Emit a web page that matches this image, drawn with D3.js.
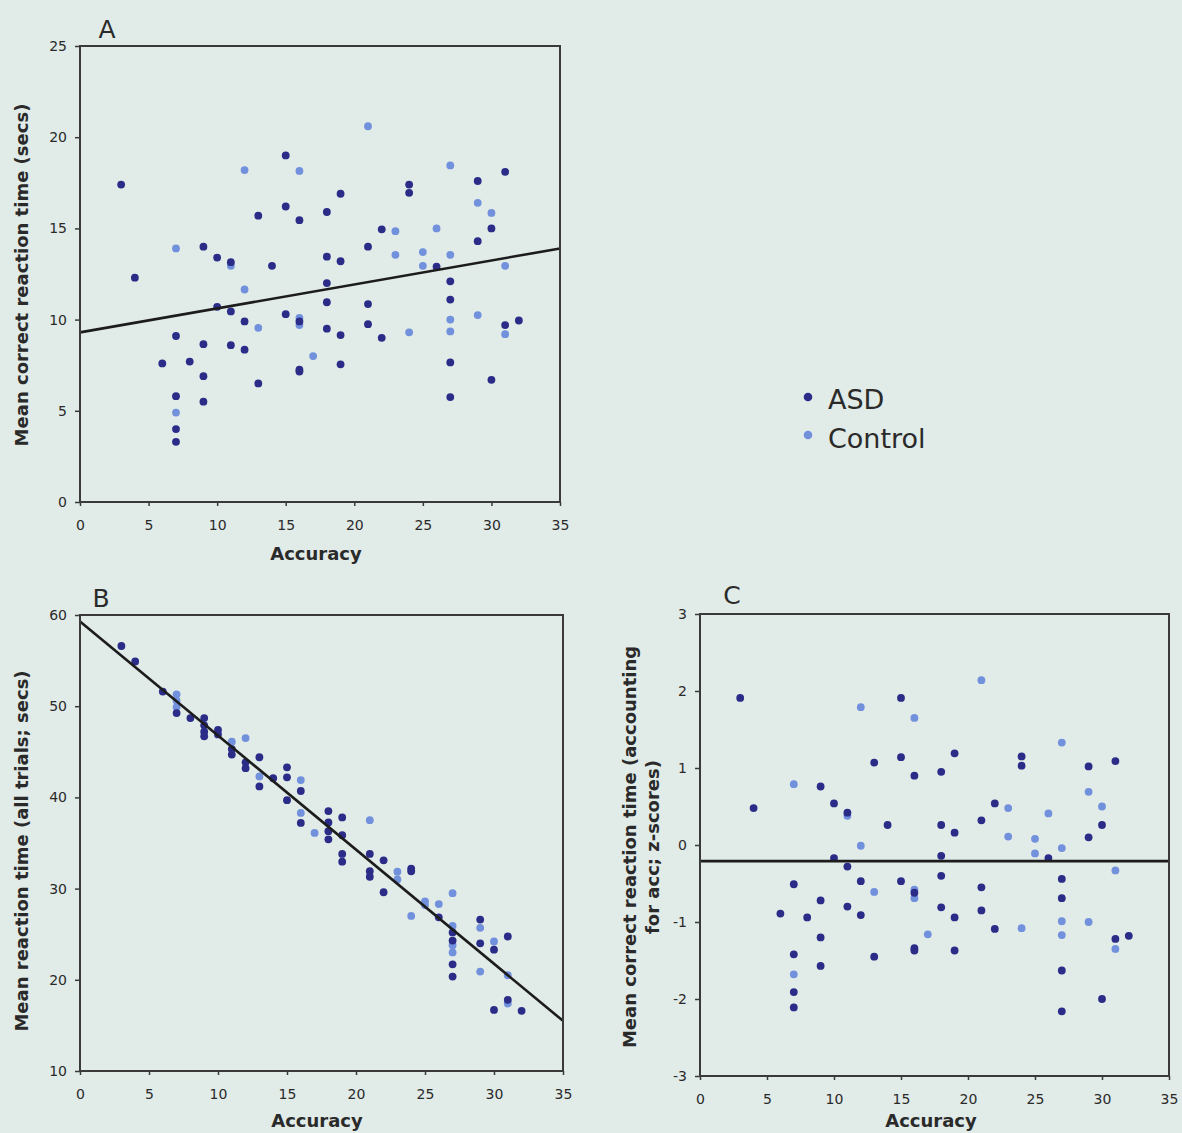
<!DOCTYPE html>
<html><head><meta charset="utf-8">
<script src="https://cdn.jsdelivr.net/npm/d3@7"></script>
<style>
html,body{margin:0;padding:0;background:#e1ebe8;}
svg{display:block;}
text{font-family:"DejaVu Sans",Verdana,sans-serif;fill:#2a2a2a;}
</style></head>
<body>
<script>
// ---------- DATA ----------
const xTicks = [0,5,10,15,20,25,30,35];
const yTicksA = [0,5,10,15,20,25];
const yTicksB = [10,20,30,40,50,60];
const yTicksC = [-3,-2,-1,0,1,2,3];
const seriesNames = ["ASD","Control"];

const panelA_ASD = [[3,17.4],[4,12.3],[6,7.6],[7,9.1],[7,5.8],[7,4.0],[7,3.3],[8,7.7],[9,14.0],[9,8.65],[9,6.9],[9,5.5],[10,13.4],[10,10.7],[11,13.15],[11,10.45],[11,8.6],[12,9.9],[12,8.35],[13,15.7],[13,6.5],[14,12.95],[15,19.0],[15,16.2],[15,10.3],[16,15.45],[16,9.9],[16,7.25],[16,7.15],[18,15.9],[18,13.45],[18,12.0],[18,10.95],[18,9.5],[19,16.9],[19,13.2],[19,9.15],[19,7.55],[21,14.0],[21,10.85],[21,9.75],[22,14.95],[22,9.0],[24,17.4],[24,16.95],[26,12.9],[27,12.1],[27,11.1],[27,7.65],[27,5.75],[29,17.6],[29,14.3],[30,15.0],[30,6.7],[31,18.1],[31,9.7],[32,9.95]];
const panelA_Control = [[7,13.9],[7,4.9],[11,12.95],[12,18.2],[12,11.65],[13,9.55],[16,18.15],[16,10.1],[16,9.7],[17,8.0],[21,20.6],[23,14.85],[23,13.55],[24,9.3],[25,13.7],[25,12.95],[26,15.0],[27,18.45],[27,13.55],[27,10.0],[27,9.35],[29,16.4],[29,10.25],[30,15.85],[31,12.95],[31,9.2]];
const panelA_fit = [[0,9.3],[35,13.9]];

const panelB_ASD = [[3,56.6],[4,54.9],[6,51.6],[7,49.25],[8,48.7],[9,48.7],[9,47.9],[9,47.2],[9,46.7],[10,47.4],[10,46.9],[11,45.3],[11,44.7],[12,43.85],[12,43.2],[13,44.4],[13,41.2],[14,42.1],[15,43.3],[15,42.2],[15,39.7],[16,40.7],[16,37.2],[18,38.5],[18,37.25],[18,36.3],[18,35.4],[19,37.8],[19,35.85],[19,33.8],[19,32.95],[21,33.8],[21,31.9],[21,31.3],[22,33.1],[22,29.6],[24,32.2],[24,31.9],[26,26.85],[27,25.2],[27,24.3],[27,21.7],[27,20.35],[29,26.6],[29,24.0],[30,23.3],[30,16.7],[31,24.75],[31,17.8],[32,16.6]];
const panelB_Control = [[7,51.3],[7,50.6],[7,49.9],[11,46.1],[12,46.5],[13,42.3],[16,41.9],[16,38.3],[17,36.1],[21,37.5],[23,31.85],[23,31.0],[24,27.0],[25,28.6],[25,28.2],[26,28.3],[27,29.5],[27,25.9],[27,23.8],[27,23.0],[29,25.7],[29,20.9],[30,24.2],[31,20.5],[31,17.4]];
const panelB_fit = [[0,59.3],[35,15.5]];

const panelC_ASD = [[3,1.91],[4,0.48],[6,-0.89],[7,-0.51],[7,-1.42],[7,-1.91],[7,-2.11],[8,-0.94],[9,0.76],[9,-0.72],[9,-1.2],[9,-1.57],[10,0.54],[10,-0.17],[11,0.42],[11,-0.28],[11,-0.8],[12,-0.47],[12,-0.91],[13,1.07],[13,-1.45],[14,0.26],[15,1.91],[15,1.14],[15,-0.47],[16,0.9],[16,-0.62],[16,-1.34],[16,-1.37],[18,0.95],[18,0.26],[18,-0.14],[18,-0.4],[18,-0.81],[19,1.19],[19,0.16],[19,-0.94],[19,-1.37],[21,0.32],[21,-0.55],[21,-0.85],[22,0.54],[22,-1.09],[24,1.15],[24,1.03],[26,-0.17],[27,-0.44],[27,-0.69],[27,-1.63],[27,-2.16],[29,1.02],[29,0.1],[30,0.26],[30,-2.0],[31,1.09],[31,-1.22],[32,-1.18]];
const panelC_Control = [[7,0.79],[7,-1.68],[11,0.38],[12,1.79],[12,-0.01],[13,-0.61],[16,1.65],[16,-0.58],[16,-0.69],[17,-1.16],[21,2.14],[23,0.48],[23,0.11],[24,-1.08],[25,0.08],[25,-0.11],[26,0.41],[27,1.33],[27,-0.04],[27,-0.99],[27,-1.17],[29,0.69],[29,-1.0],[30,0.5],[31,-0.33],[31,-1.35]];
const panelC_fit = [[0,-0.21],[35,-0.21]];

// ---------- STYLE ----------
const colors = {ASD:"#2a2c88", Control:"#7291dc"};
const W = 1182, H = 1133;
const svg = d3.select("body").append("svg").attr("width",W).attr("height",H);
svg.append("rect").attr("width",W).attr("height",H).attr("fill","#e1ebe8");

const fmt = d => String(d).replace("\u2212","-");

const panels = [
  {letter:"A", lx:107, ly:38, x0:80, x1:560, y0:46, y1:502, ydom:[0,25], yticks:yTicksA,
   asd:panelA_ASD, ctl:panelA_Control, fit:panelA_fit,
   ytitle:["Mean correct reaction time (secs)"], ytx:[28], ytc:275, xtc:316, xtitleY:560},
  {letter:"B", lx:101, ly:607, x0:80, x1:563, y0:615, y1:1071, ydom:[10,60], yticks:yTicksB,
   asd:panelB_ASD, ctl:panelB_Control, fit:panelB_fit,
   ytitle:["Mean reaction time (all trials; secs)"], ytx:[28], ytc:851, xtc:317, xtitleY:1127},
  {letter:"C", lx:732, ly:604, x0:700, x1:1169, y0:614, y1:1076, ydom:[-3,3], yticks:yTicksC,
   asd:panelC_ASD, ctl:panelC_Control, fit:panelC_fit,
   ytitle:["Mean correct reaction time (accounting","for acc; z-scores)"], ytx:[636,659], ytc:847, xtc:931, xtitleY:1127}
];

panels.forEach(p=>{
  const g = svg.append("g");
  const x = d3.scaleLinear().domain([0,35]).range([p.x0,p.x1]);
  const y = d3.scaleLinear().domain(p.ydom).range([p.y1,p.y0]);

  // axes
  const ax = g.append("g").attr("transform",`translate(0,${p.y1})`)
    .call(d3.axisBottom(x).tickValues(xTicks).tickSize(4).tickPadding(14).tickFormat(fmt));
  const ay = g.append("g").attr("transform",`translate(${p.x0},0)`)
    .call(d3.axisLeft(y).tickValues(p.yticks).tickSize(5).tickPadding(8).tickFormat(fmt));
  [ax,ay].forEach(a=>{
    a.select(".domain").remove();
    a.selectAll(".tick line").attr("stroke","#3a3a3a").attr("stroke-width",1.5);
    a.selectAll(".tick text").attr("font-size",14).attr("fill","#3a3a3a")
      .attr("font-family","DejaVu Sans, Verdana, sans-serif");
  });

  // dots
  g.selectAll(".c").data(p.ctl).enter().append("circle")
    .attr("cx",d=>x(d[0])).attr("cy",d=>y(d[1])).attr("r",3.9).attr("fill",colors.Control);
  g.selectAll(".a").data(p.asd).enter().append("circle")
    .attr("cx",d=>x(d[0])).attr("cy",d=>y(d[1])).attr("r",3.9).attr("fill",colors.ASD);

  // fit line
  g.append("path").datum(p.fit)
    .attr("d",d3.line().x(d=>x(d[0])).y(d=>y(d[1])))
    .attr("stroke","#1c1c1c").attr("stroke-width",2.6).attr("fill","none");

  // frame
  g.append("rect").attr("x",p.x0).attr("y",p.y0).attr("width",p.x1-p.x0).attr("height",p.y1-p.y0)
    .attr("fill","none").attr("stroke","#3a3a3a").attr("stroke-width",2);

  // letters & titles
  g.append("text").attr("x",p.lx).attr("y",p.ly).attr("text-anchor","middle")
    .attr("font-size",25).text(p.letter);
  g.append("text").attr("x",p.xtc).attr("y",p.xtitleY).attr("text-anchor","middle")
    .attr("font-size",18).attr("font-weight","bold").text("Accuracy");
  p.ytitle.forEach((t,i)=>{
    g.append("text").attr("transform",`translate(${p.ytx[i]},${p.ytc}) rotate(-90)`)
      .attr("text-anchor","middle").attr("font-size",18).attr("font-weight","bold").text(t);
  });
});

// legend
const leg = svg.append("g");
seriesNames.forEach((s,i)=>{
  leg.append("circle").attr("cx",808).attr("cy",397+i*38).attr("r",4.3).attr("fill",colors[s]);
  leg.append("text").attr("x",828).attr("y",409+i*39).attr("font-size",27).attr("fill","#222").text(s);
});
</script>
</body></html>
